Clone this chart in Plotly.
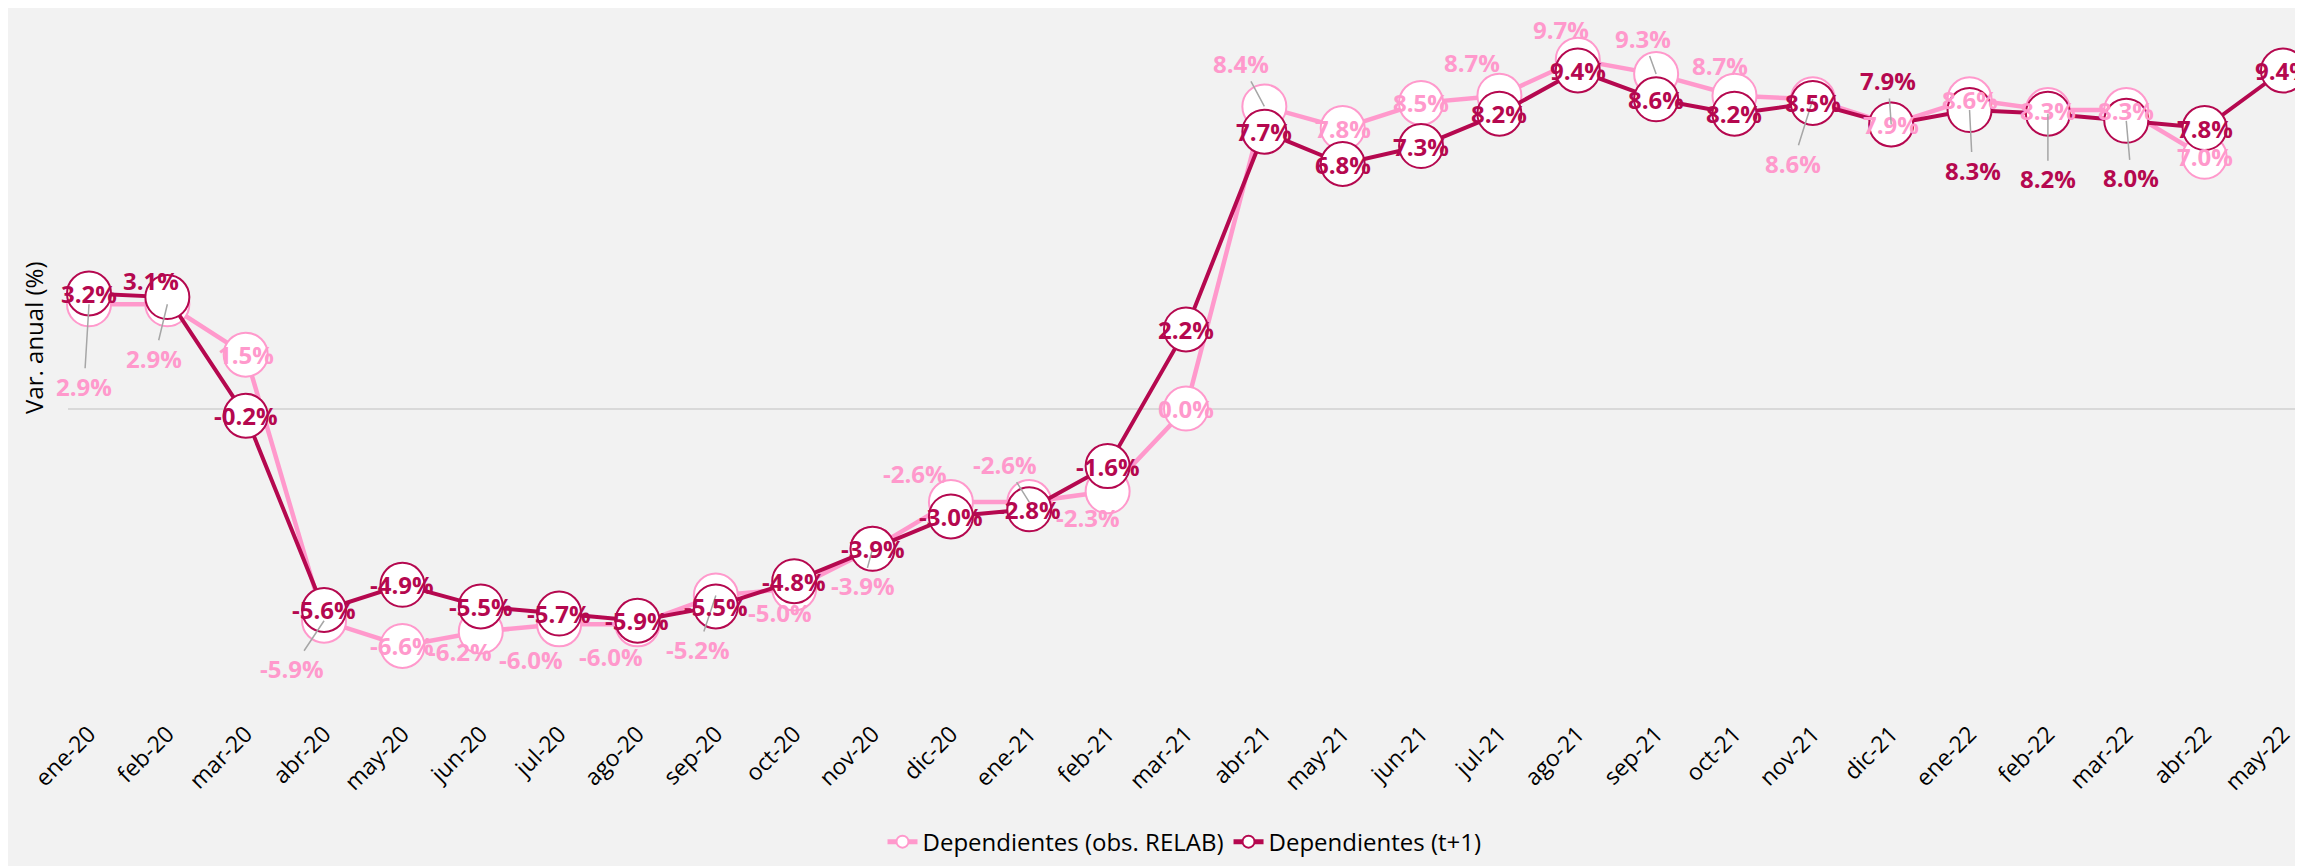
import plotly.graph_objects as go

months = ["ene-20", "feb-20", "mar-20", "abr-20", "may-20", "jun-20", "jul-20", "ago-20",
          "sep-20", "oct-20", "nov-20", "dic-20", "ene-21", "feb-21", "mar-21", "abr-21",
          "may-21", "jun-21", "jul-21", "ago-21", "sep-21", "oct-21", "nov-21", "dic-21",
          "ene-22", "feb-22", "mar-22", "abr-22", "may-22"]

obs_relab = [2.9, 2.9, 1.5, -5.9, -6.6, -6.2, -6.0, -6.0, -5.2, -5.0, -3.9, -2.6, -2.6, -2.3,
             0.0, 8.4, 7.8, 8.5, 8.7, 9.7, 9.3, 8.7, 8.6, 7.9, 8.6, 8.3, 8.3, 7.0, None]

t_plus_1 = [3.2, 3.1, -0.2, -5.6, -4.9, -5.5, -5.7, -5.9, -5.5, -4.8, -3.9, -3.0, -2.8, -1.6,
            2.2, 7.7, 6.8, 7.3, 8.2, 9.4, 8.6, 8.2, 8.5, 7.9, 8.3, 8.2, 8.0, 7.8, 9.4]

name_obs = "Dependientes (obs. RELAB)"
name_t1 = "Dependientes (t+1)"

PINK = "#FF99CC"
DARK = "#B5084F"
BG = "#F2F2F2"
FONT = "Segoe UI, Open Sans, sans-serif"

# label placement (pixel offsets from the point; dy positive = downwards), leader flag
pink_label_pos = {
    0: (-5, 82, True), 1: (-13, 54, True), 3: (-32, 48, True), 5: (-21, 20, False),
    6: (-28, 35, False), 7: (-26, 32, False), 8: (-18, 54, True), 9: (-14, 24, False),
    10: (-10, 37, True), 11: (-36, -29, False), 12: (-24, -38, True), 13: (-20, 26, False),
    15: (-23, -43, True), 18: (-27, -33, False), 19: (-17, -30, False), 20: (-13, -36, True),
    21: (-14, -30, False), 22: (-20, 64, True),
}
dark_label_pos = {
    1: (-16, -17, False), 23: (-3, -44, True), 24: (3, 60, True), 25: (0, 65, True),
    26: (5, 57, True),
}

fig = go.Figure()
fig.add_trace(go.Scatter(
    x=months, y=obs_relab, name=name_obs, mode="lines+markers",
    line=dict(color=PINK, width=4.5),
    marker=dict(size=44, color="white", line=dict(color=PINK, width=2)),
    cliponaxis=False, hoverinfo="skip",
))
fig.add_trace(go.Scatter(
    x=months, y=t_plus_1, name=name_t1, mode="lines+markers",
    line=dict(color=DARK, width=4),
    marker=dict(size=44, color="white", line=dict(color=DARK, width=2)),
    cliponaxis=False, hoverinfo="skip",
))

annotations = []


def add_labels(values, color, pos):
    for i, v in enumerate(values):
        if v is None:
            continue
        dx, dy, leader = pos.get(i, (0, 0, False))
        a = dict(x=months[i], y=v, xref="x", yref="y", text=f"{v:.1f}%",
                 font=dict(family=FONT, size=24, color=color, weight="bold"))
        if leader:
            a.update(showarrow=True, ax=dx, ay=dy, arrowhead=0, arrowwidth=1.5,
                     arrowcolor="#A6A6A6", standoff=0)
        else:
            a.update(showarrow=False, xshift=dx, yshift=-dy)
        annotations.append(a)


add_labels(obs_relab, PINK, pink_label_pos)
add_labels(t_plus_1, DARK, dark_label_pos)

annotations.append(dict(
    text="Var. anual (%)", xref="paper", yref="paper", x=0, y=0.541, xshift=-34,
    xanchor="center", yanchor="middle",
    showarrow=False, textangle=-90, font=dict(family=FONT, size=24, color="#000000"),
))

fig.update_layout(
    width=2303, height=866,
    paper_bgcolor=BG, plot_bgcolor=BG,
    margin=dict(l=60, r=10, t=10, b=141),
    font=dict(family=FONT, size=24, color="#000000"),
    showlegend=True,
    legend=dict(orientation="h", x=0.5, xanchor="center", y=-0.15, yanchor="top",
                itemsizing="constant", font=dict(size=24, color="#000000"),
                bgcolor="rgba(0,0,0,0)"),
    annotations=annotations,
)
fig.update_xaxes(type="category", range=[-0.268, 28.23], showgrid=False, zeroline=False,
                 showline=False, ticks="", tickangle=-45,
                 tickfont=dict(family=FONT, size=23, color="#000000"))
fig.update_yaxes(range=[-8.52, 10.86], showgrid=False, zeroline=True, zerolinecolor="#D9D9D9",
                 zerolinewidth=2, showticklabels=False, ticks="", showline=False)

fig.write_html("out.html")
